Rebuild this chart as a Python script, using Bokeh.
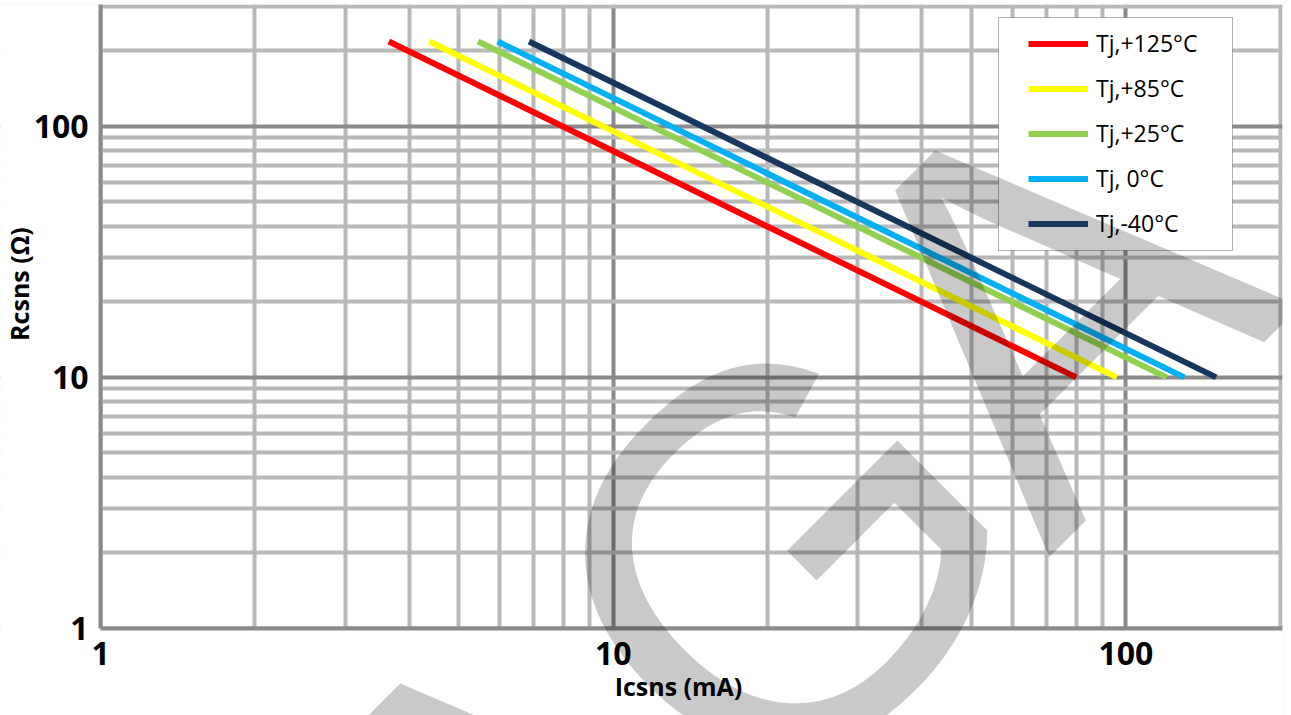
import math
from bokeh.plotting import figure
from bokeh.models import (FixedTicker, PrintfTickFormatter, Legend, LegendItem,
                          Label, BoxAnnotation)
from bokeh.embed import file_html
from bokeh.resources import INLINE

# ---- data ----
series_labels = ["Tj,+125°C", "Tj,+85°C", "Tj,+25°C", "Tj, 0°C", "Tj,-40°C"]
series_colors = ["#ff0000", "#ffff00", "#92d050", "#00b0f0", "#17375e"]
icsns_start = [3.65, 4.38, 5.45, 5.95, 6.85]      # mA
rcsns_start = [218, 218, 218, 218, 218]           # ohm
icsns_end = [80, 96, 120, 130, 150]               # mA
rcsns_end = [10, 10, 10, 10, 10]                  # ohm

x_major = [1, 10, 100]
x_minor = [2, 3, 4, 5, 6, 7, 8, 9, 20, 30, 40, 50, 60, 70, 80, 90, 200]
y_major = [1, 10, 100]
y_minor = [2, 3, 4, 5, 6, 7, 8, 9, 20, 30, 40, 50, 60, 70, 80, 90, 200, 300]

X_AXIS_AT = 1          # x axis sits at Rcsns = 1
Y_AXIS_AT = 1          # y axis sits at Icsns = 1
X_RANGE = (0.6381, 202)
Y_RANGE = (0.4497, 306)

W, H = 1291, 715
FL, FR, FT, FB = 0, 9, 4, 0
fw, fh = W - FL - FR, H - FT - FB

NB = "\u00a0"


def dx(px):  # picture x -> data x (annotation placement only)
    return 10 ** (math.log10(X_RANGE[0]) + (px - FL) / fw * math.log10(X_RANGE[1] / X_RANGE[0]))


def dy(py):  # picture y -> data y
    return 10 ** (math.log10(Y_RANGE[1]) - (py - FT) / fh * math.log10(Y_RANGE[1] / Y_RANGE[0]))


p = figure(width=W, height=H, x_axis_type="log", y_axis_type="log",
           x_range=X_RANGE, y_range=Y_RANGE, output_backend="svg",
           toolbar_location=None, min_border_left=FL, min_border_right=FR,
           min_border_top=FT, min_border_bottom=FB)
p.outline_line_color = None
p.background_fill_color = "white"

for ax, maj, mn in ((p.xaxis[0], x_major, x_minor), (p.yaxis[0], y_major, y_minor)):
    ax.ticker = FixedTicker(ticks=maj, minor_ticks=mn)
    ax.formatter = PrintfTickFormatter(format="%d")
    ax.major_tick_line_color = None
    ax.minor_tick_line_color = None
    ax.axis_line_color = "#8a8a8a"
    ax.axis_line_width = 4
    ax.major_label_text_font = "Open Sans"
    ax.major_label_text_font_style = "bold"
    ax.major_label_text_font_size = "32px"
    ax.major_label_text_color = "black"
    ax.axis_label_text_font = "Open Sans"
    ax.axis_label_text_font_style = "bold"
    ax.axis_label_text_color = "black"
    ax.axis_label_text_font_size = "25px"
p.xaxis.fixed_location = X_AXIS_AT
p.yaxis.fixed_location = Y_AXIS_AT
p.xaxis.bounds = (Y_AXIS_AT, X_RANGE[1])
p.yaxis.bounds = (X_AXIS_AT, Y_RANGE[1])
p.xaxis.major_label_standoff = 8
p.yaxis.major_label_standoff = 6
p.xaxis.axis_label = "Icsns (mA)" + NB * 4
p.xaxis.axis_label_standoff = 0
p.yaxis.axis_label = NB * 10 + "Rcsns (Ω)"
p.yaxis.axis_label_standoff = -5

for g in (p.xgrid[0], p.ygrid[0]):
    g.grid_line_color = "#8a8a8a"
    g.grid_line_width = 4
    g.minor_grid_line_color = "#b8b8b8"
    g.minor_grid_line_width = 4
p.xgrid.ticker = p.xaxis[0].ticker
p.ygrid.ticker = p.yaxis[0].ticker

# blank the grid outside the axes (boxes reach past the ranges)
p.add_layout(BoxAnnotation(top=X_AXIS_AT, bottom=Y_RANGE[0] / 10,
                           left=X_RANGE[0] / 10, right=X_RANGE[1] * 10,
                           fill_color="white", fill_alpha=1.0,
                           line_color=None, level="underlay"))
p.add_layout(BoxAnnotation(right=Y_AXIS_AT, left=X_RANGE[0] / 10,
                           bottom=Y_RANGE[0] / 10, top=Y_RANGE[1] * 10,
                           fill_color="white", fill_alpha=1.0,
                           line_color=None, level="underlay"))

items = []
for lab, col, x0, y0, x1, y1 in zip(series_labels, series_colors, icsns_start,
                                    rcsns_start, icsns_end, rcsns_end):
    r = p.line([x0, x1], [y0, y1], line_color=col, line_width=6)
    items.append(LegendItem(label=lab, renderers=[r]))

# legend box
box = BoxAnnotation(left=dx(998), right=dx(1232), top=dy(17), bottom=dy(250),
                    fill_color="white", fill_alpha=1.0, line_color="black",
                    line_width=1)
p.add_layout(box)

legend = Legend(items=items, location=(1028, 389 + (H - 628)),
                padding=18, margin=0, spacing=13, glyph_width=60,
                glyph_height=31, label_height=31, label_standoff=8,
                label_text_font="Open Sans", label_text_font_size="23px",
                label_text_color="black",
                border_line_color=None, background_fill_alpha=0.0)
p.add_layout(legend, "center")

# watermark letters
for ch, cx, cy in (("A", 508, 833), ("G", 777, 558), ("A", 1043, 300)):
    p.add_layout(Label(x=dx(cx), y=dy(cy), text=ch, text_align="center",
                       text_baseline="middle", angle=math.pi / 4,
                       text_font="Liberation Sans", text_font_size="535px",
                       text_color="black", text_alpha=0.21))

open("out.html", "w").write(file_html(p, INLINE))
